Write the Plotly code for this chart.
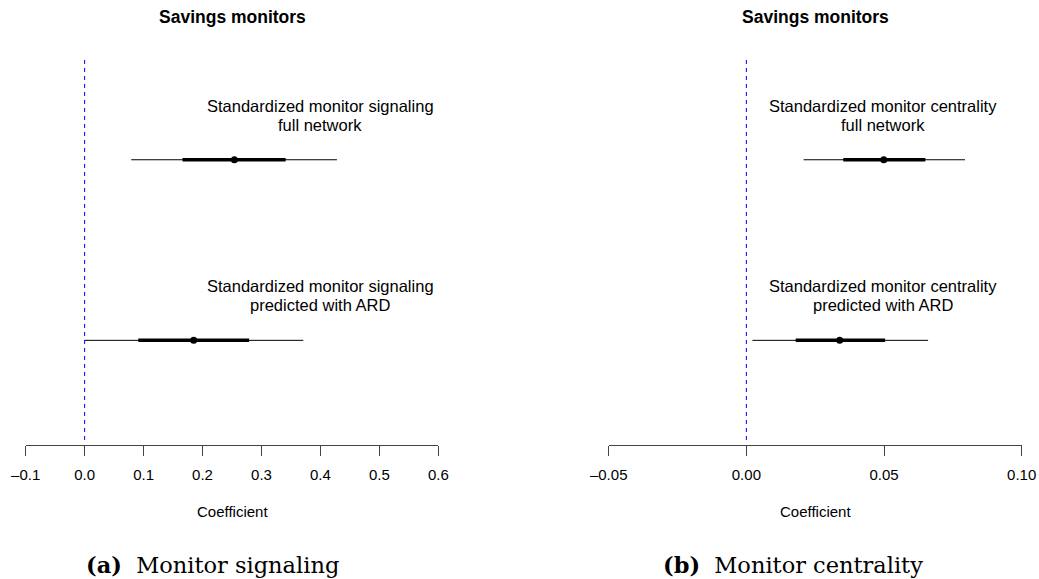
import plotly.graph_objects as go

W, H = 1039, 579

# ---- data ----
rows = [2, 1]  # upper, lower
left_labels = [["Standardized monitor signaling", "full network"],
               ["Standardized monitor signaling", "predicted with ARD"]]
left_est = [0.254, 0.185]
left_inner_lo = [0.166, 0.091]
left_inner_hi = [0.341, 0.279]
left_outer_lo = [0.079, 0.000]
left_outer_hi = [0.428, 0.371]
left_ticks = [-0.1, 0.0, 0.1, 0.2, 0.3, 0.4, 0.5, 0.6]

right_labels = [["Standardized monitor centrality", "full network"],
                ["Standardized monitor centrality", "predicted with ARD"]]
right_est = [0.0499, 0.0339]
right_inner_lo = [0.0352, 0.0179]
right_inner_hi = [0.0650, 0.0504]
right_outer_lo = [0.0208, 0.0022]
right_outer_hi = [0.0794, 0.0660]
right_ticks = [-0.05, 0.00, 0.05, 0.10]

panel_titles = ["Savings monitors", "Savings monitors"]
captions = [("(a)", "Monitor signaling"), ("(b)", "Monitor centrality")]
xlabel = "Coefficient"

# ---- layout helpers ----
def px_x(p):
    return p / W

def px_y(p):
    return 1 - p / H

axis_bottom_px = 444.7
plot_top_px = 57.0
y_range = [0.422, 2.569]

fig = go.Figure()

panels = [
    dict(xa="x", ya="y", est=left_est, ilo=left_inner_lo, ihi=left_inner_hi,
         olo=left_outer_lo, ohi=left_outer_hi, labels=left_labels, label_x=0.40),
    dict(xa="x2", ya="y2", est=right_est, ilo=right_inner_lo, ihi=right_inner_hi,
         olo=right_outer_lo, ohi=right_outer_hi, labels=right_labels, label_x=0.0495),
]

annotations = []
shapes = []
for p in panels:
    for i, r in enumerate(rows):
        fig.add_trace(go.Scatter(x=[p["olo"][i], p["ohi"][i]], y=[r, r], mode="lines",
                                 line=dict(color="black", width=1), xaxis=p["xa"], yaxis=p["ya"],
                                 showlegend=False, hoverinfo="skip"))
        fig.add_trace(go.Scatter(x=[p["ilo"][i], p["ihi"][i]], y=[r, r], mode="lines",
                                 line=dict(color="black", width=3.5), xaxis=p["xa"], yaxis=p["ya"],
                                 showlegend=False, hoverinfo="skip"))
        fig.add_trace(go.Scatter(x=[p["est"][i]], y=[r], mode="markers",
                                 marker=dict(color="black", size=7), xaxis=p["xa"], yaxis=p["ya"],
                                 showlegend=False))
        for line_text, shift in zip(p["labels"][i], [54, 35]):
            annotations.append(dict(x=p["label_x"], y=r, xref=p["xa"], yref=p["ya"],
                                    text=line_text, showarrow=False, yshift=shift,
                                    xanchor="center", yanchor="middle",
                                    font=dict(family="Liberation Sans, Arial", size=16.5, color="black")))
    shapes.append(dict(type="line", x0=0, x1=0, xref=p["xa"], yref=p["ya"],
                       y0=0.448, y1=y_range[1], line=dict(color="#0000FF", width=1, dash="4px,4px")))

# titles, x labels, captions
centers = [232, 815]
cap_centers = [212, 793]
for k in range(2):
    annotations.append(dict(x=px_x(centers[k]), y=px_y(17.5), xref="paper", yref="paper",
                            text="<b>" + panel_titles[k] + "</b>", showarrow=False,
                            xanchor="center", yanchor="middle",
                            font=dict(family="Liberation Sans, Arial", size=17.5, color="black")))
    annotations.append(dict(x=px_x(centers[k]), y=px_y(511), xref="paper", yref="paper",
                            text=xlabel, showarrow=False, xanchor="center", yanchor="middle",
                            font=dict(family="Liberation Sans, Arial", size=15, color="black")))
    annotations.append(dict(x=px_x(cap_centers[k]), y=px_y(565), xref="paper", yref="paper",
                            text="<b>" + captions[k][0] + "</b>&nbsp;&nbsp;" + captions[k][1],
                            showarrow=False, xanchor="center", yanchor="middle",
                            font=dict(family="DejaVu Serif", size=22.5, color="black")))

axis_common = dict(showgrid=False, zeroline=False, showline=True, linecolor="#444", linewidth=1,
                   ticks="outside", ticklen=10, tickcolor="#444", tickwidth=1,
                   ticklabelstandoff=6, automargin=False,
                   tickfont=dict(family="Liberation Sans, Arial", size=15, color="black"),
                   fixedrange=True)
yaxis_common = dict(visible=False, range=y_range, showgrid=False, zeroline=False, automargin=False,
                    domain=[px_y(axis_bottom_px), px_y(plot_top_px)], fixedrange=True)

fig.update_layout(
    width=W, height=H, autosize=False,
    margin=dict(l=0, r=0, t=0, b=0, autoexpand=False),
    paper_bgcolor="white", plot_bgcolor="white",
    xaxis=dict(domain=[px_x(25.7), px_x(438.3)], range=[left_ticks[0], left_ticks[-1]],
               tickvals=left_ticks, ticktext=[f"{v:.1f}".replace("-", "\u2013") for v in left_ticks],
               anchor="y", **axis_common),
    yaxis=dict(anchor="x", **yaxis_common),
    xaxis2=dict(domain=[px_x(608.7), px_x(1021.7)], range=[right_ticks[0], right_ticks[-1]],
                tickvals=right_ticks, ticktext=[f"{v:.2f}".replace("-", "\u2013") for v in right_ticks],
                anchor="y2", **axis_common),
    yaxis2=dict(anchor="x2", **yaxis_common),
    annotations=annotations,
    shapes=shapes,
)

fig.write_html("out.html")
